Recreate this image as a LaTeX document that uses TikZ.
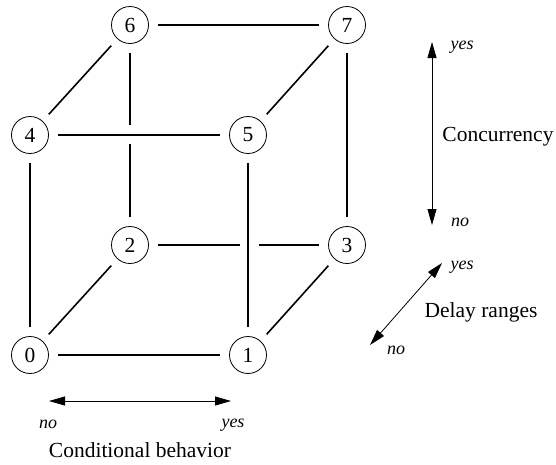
\documentclass[tikz,border=0pt]{standalone}
\usepackage{fontspec}
\setmainfont{Liberation Serif}
\usetikzlibrary{arrows.meta}
\begin{document}
\begin{tikzpicture}[x=1pt,y=-1pt,
  vtx/.style={circle,draw,line width=0.8pt,minimum size=37pt,inner sep=0pt,font=\fontsize{21.5}{24}\selectfont},
  edge/.style={line width=1.6pt,shorten >=9pt,shorten <=9pt},
  halfedge/.style={line width=1.6pt,shorten <=9pt},
  axis/.style={line width=0.8pt,{Triangle[length=16pt,width=9pt]}-{Triangle[length=16pt,width=9pt]}},
  ital/.style={inner sep=0pt,font=\fontsize{18}{20}\selectfont\itshape},
  lab/.style={inner sep=0pt,font=\fontsize{21.5}{24}\selectfont}]
\useasboundingbox (0,0) rectangle (556,464);
% vertices
\node[vtx] (n6) at (130,25) {6};
\node[vtx] (n7) at (347,25) {7};
\node[vtx] (n4) at (30,135) {4};
\node[vtx] (n5) at (248,135) {5};
\node[vtx] (n2) at (130,245) {2};
\node[vtx] (n3) at (347,245) {3};
\node[vtx] (n0) at (30,355) {0};
\node[vtx] (n1) at (248,355) {1};
% break points
\coordinate (c62a) at (130,125);
\coordinate (c62b) at (130,144);
\coordinate (c23a) at (240,245);
\coordinate (c23b) at (259,245);
% edges
\draw[edge] (n6) -- (n7);
\draw[edge] (n6) -- (n4);
\draw[edge] (n7) -- (n5);
\draw[edge] (n7) -- (n3);
\draw[edge] (n4) -- (n5);
\draw[edge] (n4) -- (n0);
\draw[edge] (n5) -- (n1);
\draw[edge] (n2) -- (n0);
\draw[edge] (n3) -- (n1);
\draw[edge] (n0) -- (n1);
\draw[halfedge] (n6) -- (c62a);
\draw[halfedge] (n2) -- (c62b);
\draw[halfedge] (n2) -- (c23a);
\draw[halfedge] (n3) -- (c23b);
% axes
\coordinate (vt) at (432,42);
\coordinate (vb) at (432,225);
\coordinate (hl) at (49,401);
\coordinate (hr) at (231,401);
\coordinate (dl) at (370,345);
\coordinate (du) at (442,263);
\draw[axis] (vt) -- (vb);
\draw[axis] (hl) -- (hr);
\draw[axis] (dl) -- (du);
% labels
\node[ital] (vyes) at (462,47) {yes};
\node[ital] (vno) at (460,222) {no};
\node[lab] (conc) at (498,137) {Concurrency};
\node[ital] (dyes) at (462,267) {yes};
\node[ital] (dno) at (396,350) {no};
\node[lab] (delay) at (481,312) {Delay ranges};
\node[ital] (hno) at (48,424) {no};
\node[ital] (hyes) at (233,425) {yes};
\node[lab] (cond) at (140,450) {Conditional behavior};
\end{tikzpicture}
\end{document}
